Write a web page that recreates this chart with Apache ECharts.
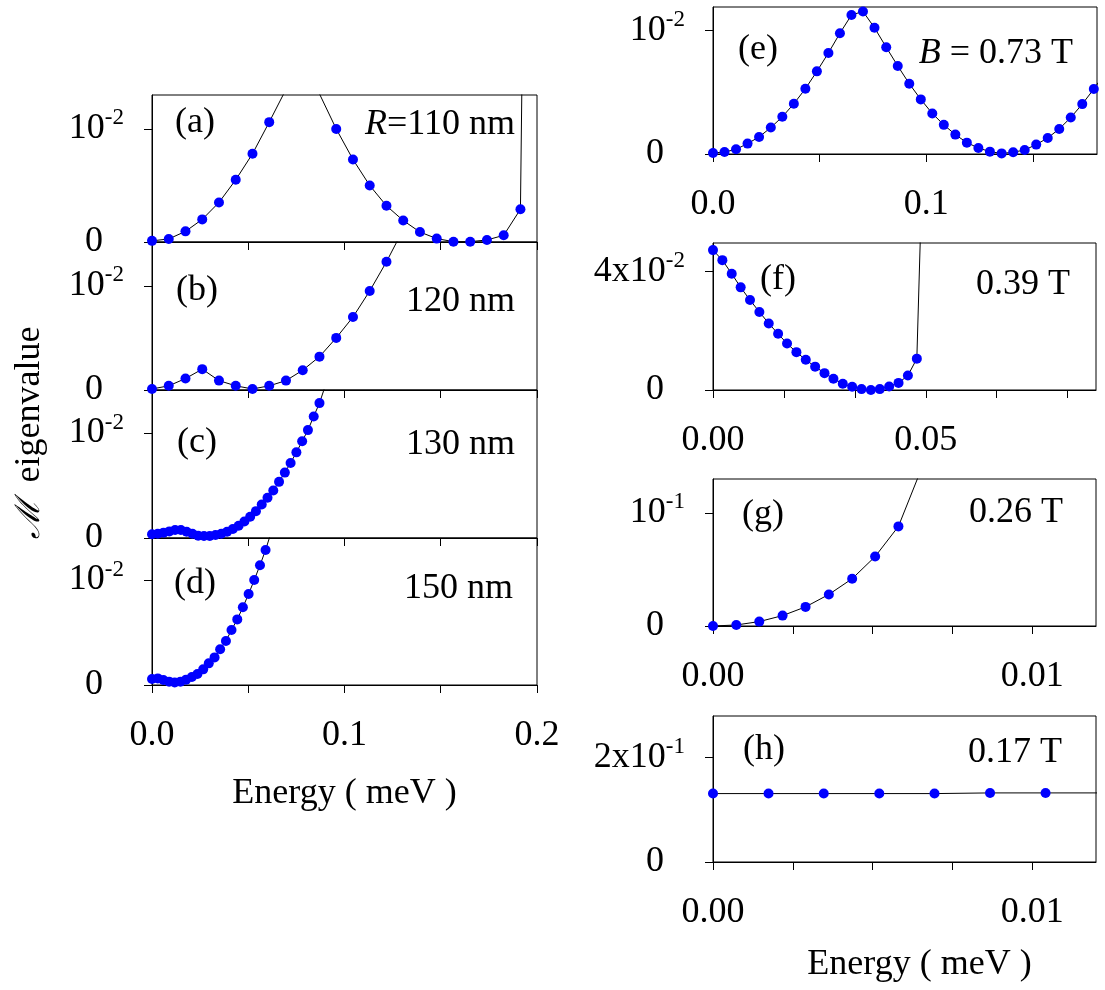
<!DOCTYPE html>
<html>
<head>
<meta charset="utf-8">
<script src="https://cdn.jsdelivr.net/npm/echarts@6/dist/echarts.min.js"></script>
<style>
  html, body { margin: 0; padding: 0; background: #fff; }
  #chart { width: 1105px; height: 990px; }
</style>
</head>
<body>
<div id="chart"></div>
<script>
// left column: R = 110, 120, 130, 150 nm
var energyA = [0, 0.0087, 0.0174, 0.0261, 0.0348, 0.0435, 0.0522, 0.0609, 0.0696, 0.0783, 0.087, 0.0957,
  0.1044, 0.1131, 0.1218, 0.1305, 0.1392, 0.1479, 0.1566, 0.1653, 0.174, 0.1827, 0.1914, 0.2001];
var valueA = [0.0001, 0.00027, 0.00094, 0.0020, 0.0035, 0.0055, 0.0078, 0.0106, 0.0135, 0.0165, 0.0131, 0.0100,
  0.0073, 0.0050, 0.0032, 0.0019, 0.00088, 0.0003, 0.00003, 0.00003, 0.00018, 0.00059, 0.0029, 0.13];

var energyB = [0, 0.0087, 0.0174, 0.0261, 0.0348, 0.0435, 0.0522, 0.0609, 0.0696, 0.0783, 0.087, 0.0957,
  0.1044, 0.1131, 0.1218, 0.1305];
var valueB = [0.0001, 0.0004, 0.0011, 0.0020, 0.0009, 0.0004, 0.0001, 0.0004, 0.0009, 0.0019, 0.0032, 0.0050,
  0.0070, 0.0095, 0.0123, 0.0154];

var energyC = [0, 0.003, 0.006, 0.009, 0.012, 0.015, 0.018, 0.021, 0.024, 0.027, 0.03, 0.033, 0.036, 0.039,
  0.042, 0.045, 0.048, 0.051, 0.054, 0.057, 0.06, 0.063, 0.066, 0.069, 0.072, 0.075, 0.078, 0.081, 0.084,
  0.087, 0.09];
var valueC = [0.00035, 0.00041, 0.00051, 0.00063, 0.00076, 0.00076, 0.0006, 0.00041, 0.00022, 0.00019, 0.00019,
  0.00028, 0.00041, 0.0006, 0.00085, 0.00117, 0.00158, 0.00203, 0.00256, 0.0032, 0.00383, 0.00453, 0.00535,
  0.00623, 0.00715, 0.00816, 0.00921, 0.01028, 0.01158, 0.01285, 0.0145];

var energyD = [0, 0.003, 0.0059, 0.0089, 0.0118, 0.0148, 0.0177, 0.0207, 0.0236, 0.0266, 0.0295, 0.0325,
  0.0354, 0.0384, 0.0413, 0.0443, 0.0472, 0.0502, 0.0531, 0.0561, 0.059, 0.062];
var valueD = [0.00057, 0.00063, 0.00048, 0.00032, 0.00025, 0.00032, 0.00051, 0.00076, 0.00105, 0.00149, 0.00206,
  0.00263, 0.0034, 0.00419, 0.00524, 0.00625, 0.0074, 0.00867, 0.0100, 0.0114, 0.01286, 0.0146];

// right column: B = 0.73, 0.39, 0.26, 0.17 T
var energyE = [0, 0.0054, 0.0108, 0.0162, 0.0216, 0.0271, 0.0325, 0.0379, 0.0433, 0.0487, 0.0541, 0.0595,
  0.0649, 0.0703, 0.0757, 0.0812, 0.0866, 0.092, 0.0974, 0.1028, 0.1082, 0.1136, 0.119, 0.1244, 0.1298,
  0.1353, 0.1407, 0.1461, 0.1515, 0.1569, 0.1623, 0.1677, 0.1731, 0.1785, 0.1839];
var valueE = [0.00008, 0.00016, 0.00038, 0.00084, 0.00138, 0.00214, 0.00301, 0.00407, 0.00528, 0.00669, 0.00818,
  0.00978, 0.01125, 0.01154, 0.01022, 0.00864, 0.00713, 0.00569, 0.00442, 0.00328, 0.00236, 0.00157, 0.00092,
  0.00049, 0.00019, 0.00005, 0.00014, 0.00033, 0.00076, 0.0013, 0.00203, 0.00295, 0.00404, 0.00526, 0.0066];

var energyF = [0, 0.0022, 0.0044, 0.0065, 0.0087, 0.0109, 0.0131, 0.0153, 0.0174, 0.0196, 0.0218, 0.024,
  0.0262, 0.0283, 0.0305, 0.0327, 0.0349, 0.0371, 0.0392, 0.0414, 0.0436, 0.0458, 0.0479, 0.0501];
var valueF = [0.0473, 0.0439, 0.0393, 0.0347, 0.0304, 0.0264, 0.0225, 0.019, 0.0157, 0.0128, 0.0102, 0.0079,
  0.0057, 0.0038, 0.0021, 0.0011, 0.0003, 0, 0.0003, 0.0012, 0.0024, 0.0049, 0.0106, 0.12];

var energyG = [0, 0.00073, 0.00145, 0.00218, 0.0029, 0.00363, 0.00436, 0.00508, 0.00581, 0.00653];
var valueG = [0, 0.0009, 0.0039, 0.0092, 0.0169, 0.0279, 0.0418, 0.0614, 0.0881, 0.139];

var energyH = [0, 0.00174, 0.00347, 0.00521, 0.00694, 0.00868, 0.01042, 0.01215];
var valueH = [0.1312, 0.1312, 0.1312, 0.1312, 0.1312, 0.1325, 0.1325, 0.1325];

var panelTags = ['(a)', '(b)', '(c)', '(d)', '(e)', '(f)', '(g)', '(h)'];
var panelNotes = ['{i|R}=110 nm', '120 nm', '130 nm', '150 nm', '{i|B} = 0.73 T', '0.39 T', '0.26 T', '0.17 T'];

var FONT = '"Liberation Serif", "Times New Roman", serif';
var myChart = echarts.init(document.getElementById('chart'), null, {renderer: 'canvas'});

function gridFor(left, top, width, height) {
  return {left: left, top: top, width: width, height: height, show: true,
    borderColor: '#000', borderWidth: 1, backgroundColor: 'transparent'};
}

function xAxisFor(i, max, tickVals, labelVals, digits) {
  return {
    type: 'value', gridIndex: i, min: 0, max: max,
    axisLine: {show: true, onZero: false, lineStyle: {color: '#000', width: 1}},
    axisTick: {show: true, inside: false, length: 8, customValues: tickVals, lineStyle: {color: '#000', width: 1}},
    axisLabel: {
      show: labelVals.length > 0, customValues: labelVals, margin: 33,
      fontFamily: FONT, fontSize: 36, color: '#000',
      formatter: function (v) { return v.toFixed(digits); }
    },
    splitLine: {show: false}
  };
}

function yAxisFor(i, max, tickVal, mainText, supText) {
  return {
    type: 'value', gridIndex: i, min: 0, max: max,
    axisLine: {show: true, onZero: false, lineStyle: {color: '#000', width: 1}},
    axisTick: {show: true, inside: false, length: 8, customValues: [0, tickVal], lineStyle: {color: '#000', width: 1}},
    axisLabel: {
      customValues: [0, tickVal], margin: 28, align: 'right',
      fontFamily: FONT, fontSize: 36, color: '#000',
      formatter: function (v) {
        return v === 0 ? '{z|0}' : '{n|' + mainText + '}{s|' + supText + '}';
      },
      rich: {
        z: {fontFamily: FONT, fontSize: 36, color: '#000', padding: [4, 21, 4, 0]},
        n: {fontFamily: FONT, fontSize: 36, color: '#000', padding: [4, 0, 4, 0]},
        s: {fontFamily: FONT, fontSize: 23, color: '#000', verticalAlign: 'top'}
      }
    },
    splitLine: {show: false}
  };
}

function seriesFor(i, xs, ys) {
  return {
    type: 'line', xAxisIndex: i, yAxisIndex: i, clip: true,
    data: xs.map(function (x, k) { return [x, ys[k]]; }),
    symbol: 'circle', symbolSize: 10, showSymbol: true,
    lineStyle: {color: '#000', width: 1},
    itemStyle: {color: '#0000ff', borderWidth: 0},
    emphasis: {disabled: true},
    animation: false
  };
}

var leftTicks = [0, 0.05, 0.1, 0.15, 0.2];
var fTicks = [0, 0.05 / 3, 0.1 / 3, 0.05, 0.2 / 3, 0.25 / 3];
var smallTicks = [0, 0.0025, 0.005, 0.0075, 0.01];

var xAxes = [
  xAxisFor(0, 0.2, leftTicks, [], 1),
  xAxisFor(1, 0.2, leftTicks, [], 1),
  xAxisFor(2, 0.2, leftTicks, [], 1),
  xAxisFor(3, 0.2, leftTicks, [0, 0.1, 0.2], 1),
  xAxisFor(4, 0.18, [0, 0.05, 0.1, 0.15], [0, 0.1], 1),
  xAxisFor(5, 0.09, fTicks, [0, 0.05], 2),
  xAxisFor(6, 0.012, smallTicks, [0, 0.01], 2),
  xAxisFor(7, 0.012, smallTicks, [0, 0.01], 2)
];
var energyName = {
  name: 'Energy ( meV )', nameLocation: 'middle',
  nameTextStyle: {fontFamily: FONT, fontSize: 36, color: '#000'}
};
Object.assign(xAxes[3], energyName, {nameGap: 91});
Object.assign(xAxes[7], energyName, {nameGap: 85});
xAxes[7].nameTextStyle = {fontFamily: FONT, fontSize: 36, color: '#000', padding: [0, 0, 0, 30]};

var yAxes = [
  yAxisFor(0, 0.013, 0.01, '10', '-2'),
  yAxisFor(1, 0.0142, 0.01, '10', '-2'),
  yAxisFor(2, 0.0141, 0.01, '10', '-2'),
  yAxisFor(3, 0.014, 0.01, '10', '-2'),
  yAxisFor(4, 0.0119, 0.01, '10', '-2'),
  yAxisFor(5, 0.0497, 0.04, '4x10', '-2'),
  yAxisFor(6, 0.13, 0.1, '10', '-1'),
  yAxisFor(7, 0.28, 0.2, '2x10', '-1')
];

// tag (x,y) and note right-edge (x,y) for each panel
var tagPos = [[195, 123], [197, 291], [197, 443], [195, 584], [758, 50], [778, 280], [763, 515], [764, 750]];
var notePos = [[515, 125], [515, 302], [515, 445], [513, 589], [1073, 54], [1070, 285], [1063, 513], [1062, 753]];

var graphics = [];
panelTags.forEach(function (t, k) {
  graphics.push({type: 'text', x: tagPos[k][0], y: tagPos[k][1], silent: true,
    style: {text: t, fontFamily: FONT, fontSize: 36, fill: '#000', align: 'center', verticalAlign: 'middle'}});
  graphics.push({type: 'text', x: notePos[k][0], y: notePos[k][1], silent: true,
    style: {text: panelNotes[k], fontFamily: FONT, fontSize: 36, fill: '#000', align: 'right', verticalAlign: 'middle',
      rich: {i: {fontFamily: FONT, fontSize: 36, fontStyle: 'italic', fill: '#000'}}}});
});
// y title
graphics.push({type: 'text', x: 30, y: 433, rotation: Math.PI / 2, silent: true,
  style: {text: '{m|\u2133}  eigenvalue', fontFamily: FONT, fontSize: 36, fill: '#000', align: 'center', verticalAlign: 'middle',
    rich: {m: {fontFamily: '"DejaVu Serif", serif', fontSize: 34, fontStyle: 'italic', fill: '#000'}}}});

var option = {
  backgroundColor: '#fff',
  animation: false,
  grid: [
    gridFor(152, 95, 385, 147),
    gridFor(152, 242, 385, 148),
    gridFor(152, 390, 385, 148),
    gridFor(152, 538, 385, 147),
    gridFor(713, 7, 384, 147),
    gridFor(713, 243, 383, 147),
    gridFor(713, 479, 383, 147),
    gridFor(713, 716, 383, 146)
  ],
  xAxis: xAxes,
  yAxis: yAxes,
  series: [
    seriesFor(0, energyA, valueA),
    seriesFor(1, energyB, valueB),
    seriesFor(2, energyC, valueC),
    seriesFor(3, energyD, valueD),
    seriesFor(4, energyE, valueE),
    seriesFor(5, energyF, valueF),
    seriesFor(6, energyG, valueG),
    seriesFor(7, energyH, valueH)
  ],
  graphic: graphics
};
myChart.setOption(option);
</script>
</body>
</html>
